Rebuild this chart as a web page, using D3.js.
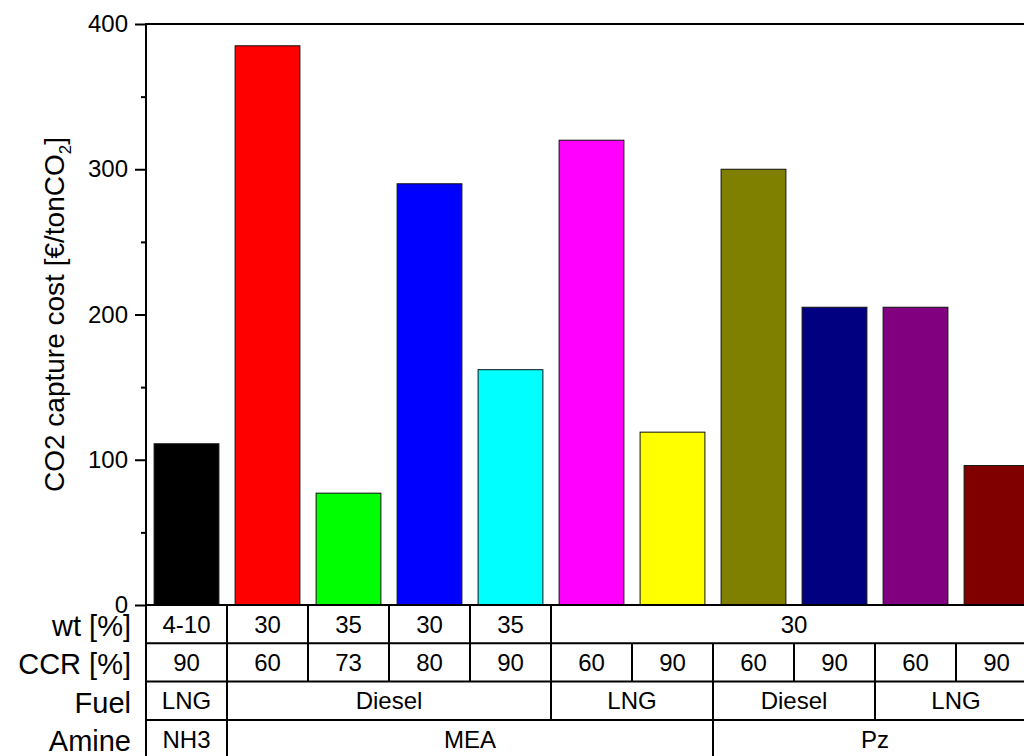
<!DOCTYPE html>
<html>
<head>
<meta charset="utf-8">
<script src="https://cdn.jsdelivr.net/npm/d3@7"></script>
<style>
  html, body { margin: 0; padding: 0; background: #fff; }
  svg { display: block; font-family: "Liberation Sans", Arial, sans-serif; }
</style>
</head>
<body>
<svg id="chart" width="1024" height="756"></svg>
<script>
// ---- data ----
const cases = ["c1","c2","c3","c4","c5","c6","c7","c8","c9","c10","c11"];
const costs = [111, 385, 77, 290, 162, 320, 119, 300, 205, 205, 96];
const barColors = ["#000000","#ff0000","#00ff00","#0000ff","#00ffff","#ff00ff","#ffff00","#808000","#000080","#800080","#800000"];
const wt    = ["4-10","30","35","30","35","30","30","30","30","30","30"];
const ccr   = ["90","60","73","80","90","60","90","60","90","60","90"];
const fuel  = ["LNG","Diesel","Diesel","Diesel","Diesel","LNG","LNG","Diesel","Diesel","LNG","LNG"];
const amine = ["NH3","MEA","MEA","MEA","MEA","MEA","MEA","Pz","Pz","Pz","Pz"];
const rowLabels = ["wt [%]","CCR [%]","Fuel","Amine"];
const yTicks = [0, 100, 200, 300, 400];
const yMinorTicks = [50, 150, 250, 350];

// ---- layout ----
const svg = d3.select("#chart");
const pLeft = 146, pRight = 1037, pTop = 24, pBottom = 605;
const rowH = 38.3;

const x = d3.scaleBand().domain(cases).range([pLeft, pRight]).paddingInner(0.2).paddingOuter(0.1);
const y = d3.scaleLinear().domain([0, 400]).range([pBottom, pTop]);
const step = x.step();

// bars
svg.append("g").selectAll("rect").data(cases).join("rect")
  .attr("x", d => x(d))
  .attr("width", x.bandwidth())
  .attr("y", (d, i) => y(costs[i]))
  .attr("height", (d, i) => y(0) - y(costs[i]))
  .attr("fill", (d, i) => barColors[i])
  .attr("stroke", "#111")
  .attr("stroke-width", 1);

// y axis
const yAxis = d3.axisLeft(y).tickValues(yTicks).tickSize(11).tickPadding(7).tickFormat(d3.format("d"));
const gy = svg.append("g").attr("transform", `translate(${pLeft},0)`).call(yAxis);
gy.select(".domain").remove();
gy.selectAll(".tick line").attr("stroke", "#000").attr("stroke-width", 2);
gy.selectAll(".tick text").attr("font-size", 24).attr("fill", "#000")
  .attr("font-family", "'Liberation Sans', Arial, sans-serif");
const gyMinor = svg.append("g").attr("transform", `translate(${pLeft},0)`)
  .call(d3.axisLeft(y).tickValues(yMinorTicks).tickSize(5).tickFormat(""));
gyMinor.select(".domain").remove();
gyMinor.selectAll(".tick line").attr("stroke", "#000").attr("stroke-width", 2);

// frame lines
const tableBottom = pBottom + rowH * 4;
svg.append("line").attr("x1", pLeft).attr("x2", pLeft).attr("y1", pTop - 1).attr("y2", tableBottom)
  .attr("stroke", "#000").attr("stroke-width", 2);
svg.append("line").attr("x1", pLeft).attr("x2", pRight).attr("y1", pTop).attr("y2", pTop)
  .attr("stroke", "#000").attr("stroke-width", 2);

// y title
const title = svg.append("text")
  .attr("transform", `translate(64,${(pTop + pBottom) / 2}) rotate(-90)`)
  .attr("text-anchor", "middle")
  .attr("font-size", 28)
  .attr("fill", "#000");
title.append("tspan").text("CO2 capture cost [€/tonCO");
title.append("tspan").text("2").attr("font-size", 17).attr("dy", 7);
title.append("tspan").text("]").attr("dy", -7);

// ---- table ----
const rows = [wt, ccr, fuel, amine];
const tbl = svg.append("g");
function groups(arr) {
  const out = [];
  arr.forEach((v, i) => {
    if (out.length && out[out.length - 1].v === v) out[out.length - 1].end = i;
    else out.push({ v, start: i, end: i });
  });
  return out;
}
const slotStart = i => x(cases[i]) - step * 0.1;
rows.forEach((arr, r) => {
  const y0 = pBottom + r * rowH, y1 = y0 + rowH;
  tbl.append("line").attr("x1", pLeft).attr("x2", pRight).attr("y1", y0).attr("y2", y0)
    .attr("stroke", "#000").attr("stroke-width", 2);
  groups(arr).forEach(g => {
    const xs = slotStart(g.start), xe = slotStart(g.end) + step;
    if (g.start > 0) {
      tbl.append("line").attr("x1", xs).attr("x2", xs).attr("y1", y0).attr("y2", y1)
        .attr("stroke", "#000").attr("stroke-width", 2);
    }
    tbl.append("text").attr("x", (xs + xe) / 2).attr("y", (y0 + y1) / 2).attr("dy", "0.36em")
      .attr("text-anchor", "middle").attr("font-size", 24).attr("fill", "#000").text(g.v);
  });
  tbl.append("text").attr("x", 131).attr("y", (y0 + y1) / 2).attr("dy", 12)
    .attr("text-anchor", "end").attr("font-size", 29).attr("fill", "#000").text(rowLabels[r]);
});
tbl.append("line").attr("x1", pLeft).attr("x2", pRight).attr("y1", tableBottom).attr("y2", tableBottom)
  .attr("stroke", "#000").attr("stroke-width", 2);
</script>
</body>
</html>
